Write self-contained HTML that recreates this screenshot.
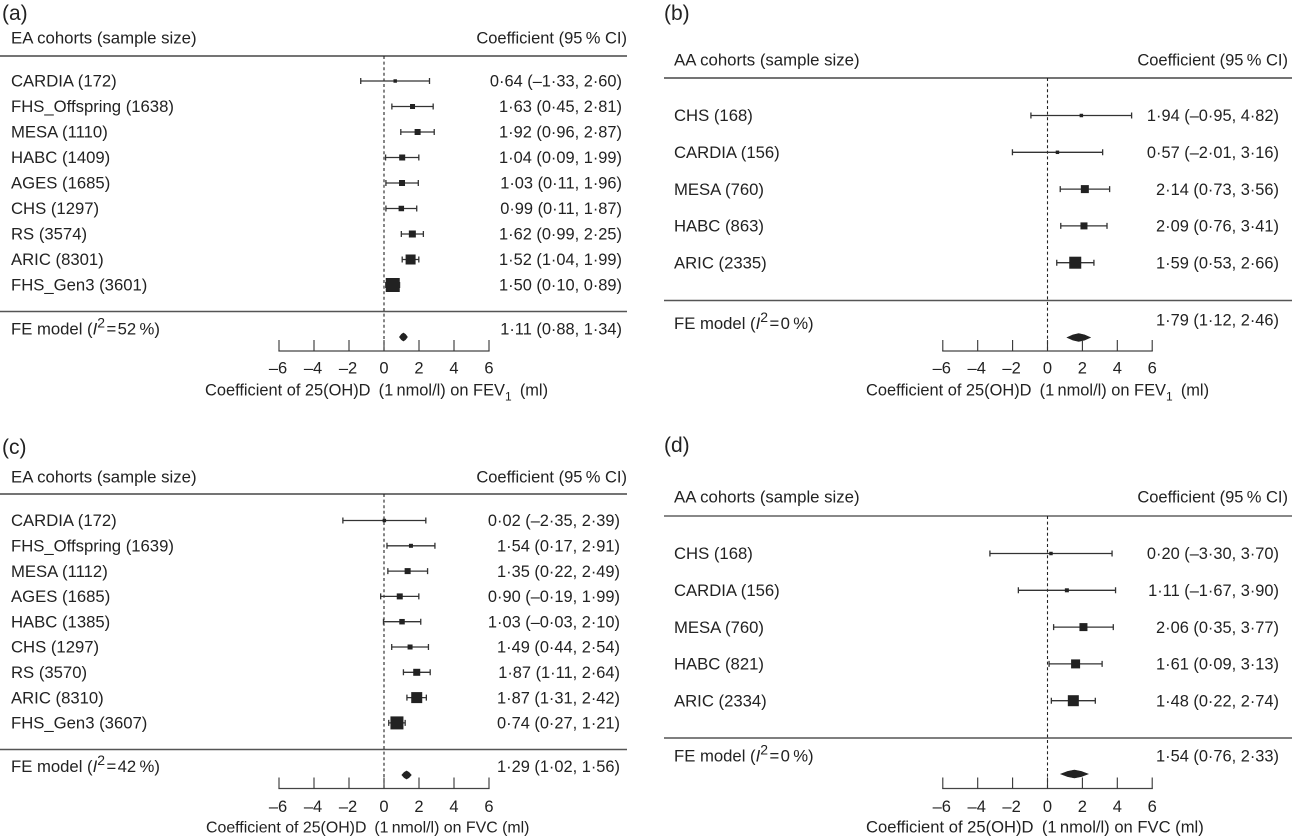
<!DOCTYPE html>
<html lang="en">
<head>
<meta charset="utf-8">
<title>Forest plots of 25(OH)D coefficients</title>
<style>
html,body{margin:0;padding:0;background:#fff;}
#figure{display:block;width:1292px;height:836px;}
text{font-family:"Liberation Sans",Arial,sans-serif;font-size:16.5px;fill:#222;}
.plabel{font-size:21px;}
.hdr-left{font-size:16.8px;}
.cohort{font-size:16.7px;}
.val{font-size:16.4px;}
</style>
</head>
<body>
<svg id="figure" xmlns="http://www.w3.org/2000/svg" width="1292" height="836" viewBox="0 0 1292 836"></svg>
<script>
// Shared axis
const tickValues = [-6, -4, -2, 0, 2, 4, 6];
const tickLabels = ['–6', '–4', '–2', '0', '2', '4', '6'];

// Panel (a)
const aCohorts = ['CARDIA (172)', 'FHS_Offspring (1638)', 'MESA (1110)', 'HABC (1409)', 'AGES (1685)', 'CHS (1297)', 'RS (3574)', 'ARIC (8301)', 'FHS_Gen3 (3601)'];
const aEst = [0.64, 1.63, 1.92, 1.04, 1.03, 0.99, 1.62, 1.52, 0.50];
const aLow = [-1.33, 0.45, 0.96, 0.09, 0.11, 0.11, 0.99, 1.04, 0.10];
const aHigh = [2.60, 2.81, 2.87, 1.99, 1.96, 1.87, 2.25, 1.99, 0.89];
const aWeights = [1.2, 2.5, 3.6, 3.6, 3.6, 3.0, 4.9, 10, 19.6];
const aPrinted = ['0·64 (–1·33, 2·60)', '1·63 (0·45, 2·81)', '1·92 (0·96, 2·87)', '1·04 (0·09, 1·99)', '1·03 (0·11, 1·96)', '0·99 (0·11, 1·87)', '1·62 (0·99, 2·25)', '1·52 (1·04, 1·99)', '1·50 (0·10, 0·89)'];
const aPooled = [1.11, 0.88, 1.34];
const aPooledText = '1·11 (0·88, 1·34)';

// Panel (b)
const bCohorts = ['CHS (168)', 'CARDIA (156)', 'MESA (760)', 'HABC (863)', 'ARIC (2335)'];
const bEst = [1.94, 0.57, 2.14, 2.09, 1.59];
const bLow = [-0.95, -2.01, 0.73, 0.76, 0.53];
const bHigh = [4.82, 3.16, 3.56, 3.41, 2.66];
const bWeights = [1.2, 1.2, 6.4, 4.9, 14.4];
const bPrinted = ['1·94 (–0·95, 4·82)', '0·57 (–2·01, 3·16)', '2·14 (0·73, 3·56)', '2·09 (0·76, 3·41)', '1·59 (0·53, 2·66)'];
const bPooled = [1.79, 1.12, 2.46];
const bPooledText = '1·79 (1·12, 2·46)';

// Panel (c)
const cCohorts = ['CARDIA (172)', 'FHS_Offspring (1639)', 'MESA (1112)', 'AGES (1685)', 'HABC (1385)', 'CHS (1297)', 'RS (3570)', 'ARIC (8310)', 'FHS_Gen3 (3607)'];
const cEst = [0.02, 1.54, 1.35, 0.90, 1.03, 1.49, 1.87, 1.87, 0.74];
const cLow = [-2.35, 0.17, 0.22, -0.19, -0.03, 0.44, 1.11, 1.31, 0.27];
const cHigh = [2.39, 2.91, 2.49, 1.99, 2.10, 2.54, 2.64, 2.42, 1.21];
const cWeights = [1.2, 1.6, 3.6, 3.6, 3.0, 2.5, 4.9, 12.1, 16.9];
const cPrinted = ['0·02 (–2·35, 2·39)', '1·54 (0·17, 2·91)', '1·35 (0·22, 2·49)', '0·90 (–0·19, 1·99)', '1·03 (–0·03, 2·10)', '1·49 (0·44, 2·54)', '1·87 (1·11, 2·64)', '1·87 (1·31, 2·42)', '0·74 (0·27, 1·21)'];
const cPooled = [1.29, 1.02, 1.56];
const cPooledText = '1·29 (1·02, 1·56)';

// Panel (d)
const dCohorts = ['CHS (168)', 'CARDIA (156)', 'MESA (760)', 'HABC (821)', 'ARIC (2334)'];
const dEst = [0.20, 1.11, 2.06, 1.61, 1.48];
const dLow = [-3.30, -1.67, 0.35, 0.09, 0.22];
const dHigh = [3.70, 3.90, 3.77, 3.13, 2.74];
const dWeights = [1.2, 1.6, 6.4, 8.1, 12.1];
const dPrinted = ['0·20 (–3·30, 3·70)', '1·11 (–1·67, 3·90)', '2·06 (0·35, 3·77)', '1·61 (0·09, 3·13)', '1·48 (0·22, 2·74)'];
const dPooled = [1.54, 0.76, 2.33];
const dPooledText = '1·54 (0·76, 2·33)';

const NS = 'http://www.w3.org/2000/svg';
const root = document.getElementById('figure');

function make(parent, tag, attrs, text) {
  const el = document.createElementNS(NS, tag);
  for (const k in attrs) el.setAttribute(k, attrs[k]);
  if (text !== undefined) el.textContent = text;
  parent.appendChild(el);
  return el;
}

function drawPanel(p) {
  const xScale = v => p.zeroX + v * p.unit;
  const yScale = i => p.firstRow + i * p.rowStep;

  const g = make(root, 'g', {});
  
  

  const panelLabel = make(g, 'text', {x: p.labelX, y: p.labelY, class: 'plabel'}, '(' + p.id + ')');
  
  

  const colLeft = make(g, 'text', {x: p.textX, y: p.headerY, class: 'hdr-left'}, p.headerLeft);
  
  

  const colRight = make(g, 'text', {x: p.headerRight, y: p.headerY, 'text-anchor': 'end'}, 'Coefficient (95\u2009% CI)');
  
  

  const topRule = make(g, 'line', {x1: p.ruleL, x2: p.ruleR, y1: p.topRule, y2: p.topRule, stroke: p.topStroke, 'stroke-width': p.topWidth});
  
  

  const sepRule = make(g, 'line', {x1: p.ruleL, x2: p.ruleR, y1: p.sepRule, y2: p.sepRule, stroke: '#555', 'stroke-width': 1.5});
  
  

  const zero = make(g, 'line', {x1: xScale(0), x2: xScale(0), y1: p.topRule, y2: p.axisY, stroke: '#222', 'stroke-width': 1.1, 'stroke-dasharray': '3 2.6'});
  
  

  p.cohorts.forEach((name, i) => {
    const y = yScale(i);
    const label = make(g, 'text', {x: p.textX, y: y + 5.7, class: 'cohort'}, name);
    
    

    const value = make(g, 'text', {x: p.valueRight, y: y + 5.7, 'text-anchor': 'end', class: 'val'}, p.printed[i]);
    
    

    const x1 = xScale(p.low[i]);
    const x2 = xScale(p.high[i]);
    const ci = make(g, 'path', {d: `M${x1} ${y}H${x2}M${x1} ${y - 3}V${y + 3}M${x2} ${y - 3}V${y + 3}`, fill: 'none', stroke: '#333', 'stroke-width': 1.3});
    
    

    const side = Math.sqrt(p.weights[i] * 10);
    const marker = make(g, 'rect', {x: xScale(p.est[i]) - side / 2, y: y - side / 2, width: side, height: side, fill: '#222'});
    
    
  });

  const fe = make(g, 'text', {x: p.textX, y: p.feY, class: 'cohort'});
  fe.innerHTML = 'FE model (<tspan font-style="italic">I</tspan><tspan dy="-7" style="font-size:14px">2</tspan><tspan dy="7">\u200a=\u200a' + p.i2 + '\u2009%)</tspan>';
  
  

  const feVal = make(g, 'text', {x: p.valueRight, y: p.feValY, 'text-anchor': 'end', class: 'val'}, p.pooledText);
  
  

  const dx = xScale(p.pooled[0]);
  const dL = xScale(p.pooled[1]);
  const dR = xScale(p.pooled[2]);
  const dW = dR - dL;
  const dY = p.diamondY;
  const diamond = make(g, 'polygon', {points: `${dL},${dY} ${dL + dW * 0.25},${dY - 2.6} ${dx},${dY - 4} ${dR - dW * 0.25},${dY - 2.6} ${dR},${dY} ${dR - dW * 0.25},${dY + 2.6} ${dx},${dY + 4} ${dL + dW * 0.25},${dY + 2.6}`, fill: '#222', stroke: '#222', 'stroke-width': 0.6});
  
  

  const axis = make(g, 'line', {x1: xScale(tickValues[0]) - 0.6, x2: xScale(tickValues[tickValues.length - 1]) + 0.6, y1: p.axisY, y2: p.axisY, stroke: '#444', 'stroke-width': 1.3});
  
  

  tickValues.forEach((t, i) => {
    const tick = make(g, 'line', {x1: xScale(t), x2: xScale(t), y1: p.axisY - 11, y2: p.axisY, stroke: '#333', 'stroke-width': 1.1});
    
    

    const tl = make(g, 'text', {x: xScale(t) - (t < 0 ? 1 : 0), y: p.tickLabelY, 'text-anchor': 'middle'}, tickLabels[i]);
    
    
  });

  const title = make(g, 'text', {x: p.titleX, y: p.titleY, 'font-size': p.titleSize, style: 'font-size:' + p.titleSize + 'px'});
  title.innerHTML = 'Coefficient of 25(OH)D\u2002(1\u2009nmol/l) on ' + p.outcome + (p.sub ? '<tspan dy="5" style="font-size:12px">' + p.sub + '</tspan><tspan dy="-5">\u2002(ml)</tspan>' : ' (ml)');
  
  
}

drawPanel({id: 'a', cohorts: aCohorts, est: aEst, low: aLow, high: aHigh, weights: aWeights, printed: aPrinted, pooled: aPooled, pooledText: aPooledText, i2: '52',
  zeroX: 384, unit: 17.5, firstRow: 81, rowStep: 25.5, labelX: 2, labelY: 20, textX: 11, headerLeft: 'EA cohorts (sample size)', headerRight: 627, headerY: 43.5, valueRight: 622,
  ruleL: 0, ruleR: 627, topRule: 56, topStroke: '#222', topWidth: 1.2, sepRule: 311.5, feY: 334.5, feValY: 334.5, diamondY: 337, axisY: 351, tickLabelY: 373.5, titleX: 205, titleY: 395.5, titleSize: 16.4, outcome: 'FEV', sub: '1'});

drawPanel({id: 'b', cohorts: bCohorts, est: bEst, low: bLow, high: bHigh, weights: bWeights, printed: bPrinted, pooled: bPooled, pooledText: bPooledText, i2: '0',
  zeroX: 1047.5, unit: 17.45, firstRow: 115.5, rowStep: 36.8, labelX: 664, labelY: 20, textX: 674, headerLeft: 'AA cohorts (sample size)', headerRight: 1288, headerY: 65.5, valueRight: 1279,
  ruleL: 664, ruleR: 1292, topRule: 78, topStroke: '#222', topWidth: 1.2, sepRule: 300.5, feY: 329, feValY: 325.5, diamondY: 337.5, axisY: 351, tickLabelY: 373.5, titleX: 866, titleY: 395.5, titleSize: 16.4, outcome: 'FEV', sub: '1'});

drawPanel({id: 'c', cohorts: cCohorts, est: cEst, low: cLow, high: cHigh, weights: cWeights, printed: cPrinted, pooled: cPooled, pooledText: cPooledText, i2: '42',
  zeroX: 384, unit: 17.5, firstRow: 520.5, rowStep: 25.3, labelX: 2, labelY: 454, textX: 11, headerLeft: 'EA cohorts (sample size)', headerRight: 627, headerY: 482.5, valueRight: 620,
  ruleL: 0, ruleR: 627, topRule: 494, topStroke: '#222', topWidth: 1.2, sepRule: 749.5, feY: 772, feValY: 772, diamondY: 775, axisY: 788.5, tickLabelY: 812, titleX: 206, titleY: 832.5, titleSize: 15.9, outcome: 'FVC', sub: ''});

drawPanel({id: 'd', cohorts: dCohorts, est: dEst, low: dLow, high: dHigh, weights: dWeights, printed: dPrinted, pooled: dPooled, pooledText: dPooledText, i2: '0',
  zeroX: 1047.5, unit: 17.45, firstRow: 553.5, rowStep: 36.8, labelX: 664, labelY: 452, textX: 674, headerLeft: 'AA cohorts (sample size)', headerRight: 1288, headerY: 502.5, valueRight: 1279,
  ruleL: 664, ruleR: 1292, topRule: 516, topStroke: '#777', topWidth: 1.8, sepRule: 738, feY: 761.5, feValY: 761.5, diamondY: 774, axisY: 788.5, tickLabelY: 812, titleX: 866, titleY: 832.5, titleSize: 16.6, outcome: 'FVC', sub: ''});
</script>
</body>
</html>
